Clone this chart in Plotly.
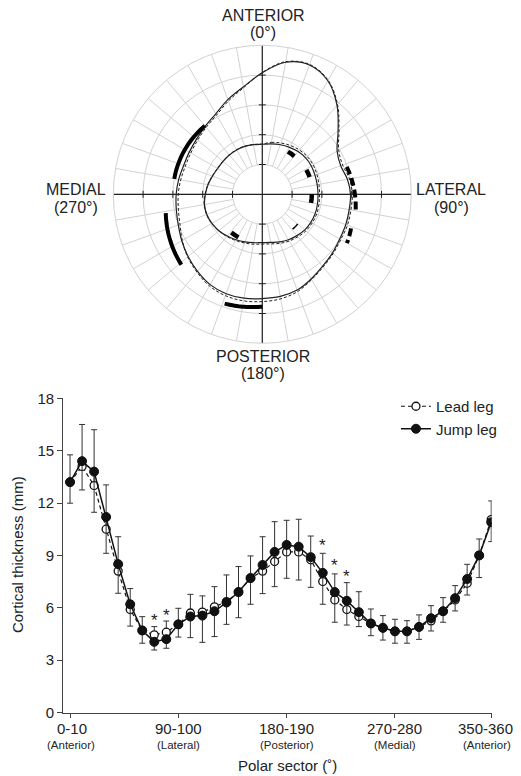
import numpy as np
import plotly.graph_objects as go

W, H = 521, 776
FONT = "Arial, Liberation Sans, sans-serif"

# ---------------- Polar cross-section data (radius in grid units) ----------------
angles = list(range(0, 360, 10))
jump_outer = [4.08, 4.5, 4.62, 4.4, 3.9, 3.32, 2.9, 2.8, 2.9, 2.96, 2.96, 2.98,
              3.0, 3.07, 3.15, 3.28, 3.42, 3.48, 3.5, 3.54, 3.55, 3.5, 3.38, 3.25,
              3.12, 3.0, 2.93, 2.89, 2.85, 2.81, 2.83, 2.88, 2.98, 3.12, 3.38, 3.66]
lead_outer = [4.09, 4.52, 4.64, 4.42, 3.93, 3.36, 2.96, 2.87, 2.97, 3.02, 3.02, 3.04,
              3.04, 3.1, 3.18, 3.31, 3.47, 3.56, 3.6, 3.63, 3.62, 3.55, 3.41, 3.27,
              3.1, 2.94, 2.86, 2.82, 2.78, 2.75, 2.77, 2.83, 2.93, 3.07, 3.33, 3.63]
jump_inner = [1.68, 1.72, 1.77, 1.82, 1.87, 1.9, 1.9, 1.88, 1.87, 1.87, 1.88, 1.89,
              1.88, 1.86, 1.81, 1.76, 1.7, 1.64, 1.62, 1.65, 1.7, 1.76, 1.83, 1.9,
              1.95, 1.98, 1.97, 1.91, 1.85, 1.78, 1.73, 1.72, 1.72, 1.72, 1.71, 1.69]
lead_inner = [1.69, 1.77, 1.83, 1.89, 1.94, 1.97, 1.97, 1.95, 1.93, 1.92, 1.93, 1.94,
              1.93, 1.91, 1.86, 1.81, 1.75, 1.69, 1.67, 1.7, 1.74, 1.79, 1.85, 1.91,
              1.96, 1.99, 1.98, 1.92, 1.86, 1.79, 1.74, 1.73, 1.73, 1.73, 1.72, 1.7]

# significance arcs: (theta_start, theta_end, r_start, r_end)
sig_solid = [(280, 320, 3.0, 3.0), (229, 259, 3.6, 3.3), (180, 199, 3.77, 3.88)]
sig_dashed = [(72, 100, 2.98, 3.18), (111, 120, 3.19, 3.28)]
sig_inner = [(31, 40, 1.67, 1.67), (61, 70, 1.69, 1.69), (90, 100, 1.66, 1.66), (209, 219, 1.65, 1.65)]
sig_inner_thin = [(130, 139, 1.55, 1.55)]

# ---------------- Line chart data ----------------
sectors = [f"{i}-{i + 10}" for i in range(0, 360, 10)]
lead = [13.2, 14.1, 13.0, 10.5, 8.1, 5.9, 4.7, 4.45, 4.6, 5.05, 5.7, 5.75,
        6.05, 6.35, 6.9, 7.7, 8.1, 8.65, 9.2, 9.2, 8.75, 7.5, 6.45, 5.9,
        5.5, 5.1, 4.85, 4.65, 4.65, 4.9, 5.25, 5.8, 6.45, 7.4, 9.0, 11.05]
jump = [13.2, 14.4, 13.8, 11.2, 8.5, 6.2, 4.7, 4.05, 4.2, 5.05, 5.5, 5.55,
        5.8, 6.3, 6.9, 7.7, 8.45, 9.2, 9.6, 9.5, 8.9, 8.0, 6.9, 6.4,
        5.75, 5.1, 4.85, 4.65, 4.65, 4.9, 5.4, 5.8, 6.55, 7.65, 9.0, 10.9]
lead_sd = [1.56, 2.4, 3.2, 2.54, 1.97, 1.2, 0.79, 0.47, 0.64, 0.92, 1.07, 0.93,
           1.16, 1.53, 1.46, 1.27, 1.97, 2.28, 1.81, 1.87, 1.36, 1.62, 1.49, 1.54,
           1.42, 0.83, 0.7, 0.69, 0.61, 0.69, 0.87, 0.78, 0.82, 1.09, 0.94, 1.07]
jump_sd = [1.21, 1.65, 2.33, 2.08, 1.67, 1.25, 0.73, 0.47, 0.52, 0.73, 1.21, 1.53,
           1.45, 1.25, 1.47, 1.5, 1.64, 1.99, 1.91, 1.91, 1.73, 1.8, 1.73, 1.39,
           0.83, 0.7, 0.7, 0.68, 0.68, 0.71, 0.73, 0.63, 0.73, 0.92, 1.27, 1.11]
star_sectors = ["70-80", "80-90", "210-220", "220-230", "230-240"]
star_y = [5.5, 5.8, 9.8, 8.65, 8.0]
tick_sectors = ["0-10", "90-100", "180-190", "270-280", "350-360"]
tick_sub = ["(Anterior)", "(Lateral)", "(Posterior)", "(Medial)", "(Anterior)"]
y_ticks = [0, 3, 6, 9, 12, 15, 18]

fig = go.Figure()

# ---- polar grid spokes (from hole edge r=1 to r=5) ----
sp_r, sp_t = [], []
for a in range(0, 360, 10):
    sp_r += [1, 5, None]
    sp_t += [a, a, None]
fig.add_trace(go.Scatterpolar(r=sp_r, theta=sp_t, mode="lines",
                              line=dict(color="#d2d2d2", width=1),
                              showlegend=False, hoverinfo="skip"))
# ---- black cross axes ----
fig.add_trace(go.Scatterpolar(r=[5, 0, 5, None, 5, 0, 5], theta=[0, 0, 180, None, 90, 90, 270],
                              mode="lines", line=dict(color="#222", width=1.2),
                              showlegend=False, hoverinfo="skip"))
tk_r = [1, 2, 3, 4] * 2
fig.add_trace(go.Scatterpolar(r=tk_r, theta=[0] * 4 + [180] * 4, mode="markers",
                              marker=dict(symbol="line-ew", size=5, line=dict(color="#222", width=1)),
                              showlegend=False, hoverinfo="skip"))
fig.add_trace(go.Scatterpolar(r=tk_r, theta=[90] * 4 + [270] * 4, mode="markers",
                              marker=dict(symbol="line-ns", size=5, line=dict(color="#222", width=1)),
                              showlegend=False, hoverinfo="skip"))


def closed(vals):
    return list(vals) + [vals[0]]


for rr, dash, w in [(lead_outer, "3px,2px", 1), (lead_inner, "3px,2px", 1),
                    (jump_outer, "solid", 1.2), (jump_inner, "solid", 1.2)]:
    fig.add_trace(go.Scatterpolar(r=closed(rr), theta=closed(angles), mode="lines",
                                  line=dict(color="#222", width=w, dash=dash, shape="spline"),
                                  showlegend=False, hoverinfo="skip"))


def arc(spec):
    t0, t1, r0, r1 = spec
    n = 20
    return list(np.linspace(r0, r1, n)), list(np.linspace(t0, t1, n))


for group, width, dash in [(sig_solid, 4, "solid"), (sig_dashed, 4, "8px,4px"),
                           (sig_inner, 4.5, "solid"), (sig_inner_thin, 1.5, "solid")]:
    for spec in group:
        r, t = arc(spec)
        fig.add_trace(go.Scatterpolar(r=r, theta=t, mode="lines",
                                      line=dict(color="black", width=width, dash=dash),
                                      showlegend=False, hoverinfo="skip"))

# ---- line chart ----
fig.add_trace(go.Scatter(x=sectors, y=lead, mode="lines+markers", name="Lead leg",
                         line=dict(color="#111", width=1.2, dash="4px,3px"),
                         marker=dict(symbol="circle", size=8, color="white",
                                     line=dict(color="#111", width=1.3)),
                         error_y=dict(type="data", array=lead_sd, arrayminus=[0] * len(lead_sd),
                                      symmetric=False, color="#333", thickness=1, width=3),
                         xaxis="x", yaxis="y"))
fig.add_trace(go.Scatter(x=sectors, y=jump, mode="lines+markers", name="Jump leg",
                         line=dict(color="#111", width=1.5),
                         marker=dict(symbol="circle", size=9, color="#111",
                                     line=dict(color="#111", width=1)),
                         error_y=dict(type="data", array=[0] * len(jump_sd), arrayminus=jump_sd,
                                      symmetric=False, color="#333", thickness=1, width=3),
                         xaxis="x", yaxis="y"))

ann = []
for s, y in zip(star_sectors, star_y):
    ann.append(dict(x=s, y=y, xref="x", yref="y", text="*", showarrow=False,
                    font=dict(size=17, color="#222"), yshift=-4))
shifts_top = [2, 0, 0, 0, -6]
shifts_sub = [1, 0, 0, 0, -4]
for s, sub, xs1, xs2 in zip(tick_sectors, tick_sub, shifts_top, shifts_sub):
    ann.append(dict(x=s, y=(H - 728) / H, xref="x", yref="paper", text=s, showarrow=False,
                    font=dict(size=15, color="#222"), xshift=xs1, yanchor="middle"))
    ann.append(dict(x=s, y=(H - 745) / H, xref="x", yref="paper", text=sub, showarrow=False,
                    font=dict(size=11.5, color="#222"), xshift=xs2, yanchor="middle"))
ann.append(dict(x=287 / W, y=(H - 765) / H, xref="paper", yref="paper", text="Polar sector (˚)",
                showarrow=False, font=dict(size=15, color="#222"), yanchor="middle"))
ann.append(dict(x=17 / W, y=(H - 555) / H, xref="paper", yref="paper", text="Cortical thickness (mm)",
                showarrow=False, textangle=-90, font=dict(size=15, color="#222"),
                xanchor="center", yanchor="middle"))
# polar orientation labels
for txt, cx, cy in [("ANTERIOR", 263, 15), ("(0°)", 263, 33),
                    ("LATERAL", 451, 189), ("(90°)", 451, 207),
                    ("MEDIAL", 76, 189), ("(270°)", 76, 207),
                    ("POSTERIOR", 263, 356), ("(180°)", 263, 374)]:
    ann.append(dict(x=cx / W, y=(H - cy) / H, xref="paper", yref="paper", text=txt,
                    showarrow=False, font=dict(size=16, color="#222"),
                    xanchor="center", yanchor="middle"))

cx, cy, R = 262.3, 194.3, 149.0
fig.update_layout(
    width=W, height=H, margin=dict(l=0, r=0, t=0, b=0),
    paper_bgcolor="white", plot_bgcolor="white",
    font=dict(family=FONT, color="#222"),
    polar=dict(
        domain=dict(x=[(cx - R) / W, (cx + R) / W], y=[(H - cy - R) / H, (H - cy + R) / H]),
        bgcolor="white",
        radialaxis=dict(range=[0, 5], tickvals=[1, 2, 3, 4, 5], showticklabels=False,
                        ticks="", showline=False, gridcolor="#d2d2d2", gridwidth=1),
        angularaxis=dict(direction="clockwise", rotation=90, showgrid=False,
                         showticklabels=False, ticks="", showline=True,
                         linecolor="#d2d2d2", linewidth=1),
    ),
    xaxis=dict(domain=[63.3 / W, 491.7 / W], range=[-0.56, 35.04], type="category",
               categoryorder="array", categoryarray=sectors,
               showgrid=False, zeroline=False, showline=True, linecolor="#444", linewidth=1.2,
               tickmode="array", tickvals=tick_sectors, ticks="outside", ticklen=4,
               tickcolor="#444", showticklabels=False, anchor="y"),
    yaxis=dict(domain=[(H - 712.5) / H, (H - 398.3) / H], range=[0, 18], tickvals=y_ticks,
               showgrid=False, zeroline=False, showline=True, linecolor="#444", linewidth=1.2,
               ticks="outside", ticklen=5, tickcolor="#444",
               tickfont=dict(size=15, color="#222"), anchor="x", automargin=False),
    legend=dict(x=0.76, y=(H - 390) / H, xanchor="left", yanchor="top",
                font=dict(size=15, color="#222"), bgcolor="rgba(0,0,0,0)",
                itemwidth=30, tracegroupgap=0),
    annotations=ann,
    showlegend=True,
)

fig.write_html("out.html", config={"displayModeBar": False},
               post_script="document.body.style.margin='0';document.body.style.padding='0';")
